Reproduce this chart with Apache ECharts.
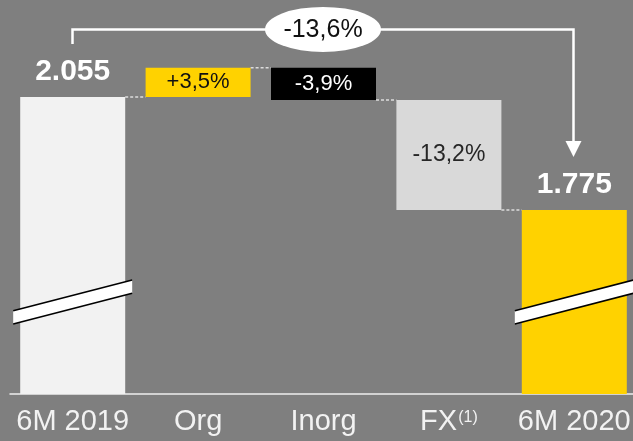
<!DOCTYPE html>
<html><head><meta charset="utf-8">
<script src="https://cdn.jsdelivr.net/npm/echarts@6/dist/echarts.min.js"></script>
<style>html,body{margin:0;padding:0;background:#7f7f7f}#c{width:633px;height:441px}</style>
</head><body><div id="c"></div>
<script>
const categories = ['6M 2019', 'Org', 'Inorg', 'FX', '6M 2020'];
const startValue = 2055;
const stepDeltas = [72, -80, -272];
const endValue = 1775;
const valueLabels = ['2.055', '+3,5%', '-3,9%', '-13,2%', '1.775'];
const totalChangeLabel = '-13,6%';
const breakValues = [1547, 1547];
const axisRange = [1319, 2295];

const barColors = ['#f2f2f2', '#ffd200', '#000000', '#d9d9d9', '#ffd200'];
const labelColors = ['#ffffff', '#111111', '#ffffff', '#262626', '#ffffff'];
const FONT = 'Liberation Sans';

// derived waterfall pieces
const levels = [startValue];
stepDeltas.forEach(d => levels.push(levels[levels.length - 1] + d));
levels.push(endValue);
const baseData = [0];
const barData = [startValue];
stepDeltas.forEach((d, i) => {
  baseData.push(Math.min(levels[i], levels[i + 1]));
  barData.push(Math.abs(d));
});
baseData.push(0);
barData.push(endValue);

const BAR_W = 105;
const chart = echarts.init(document.getElementById('c'), null, {renderer: 'canvas'});

const option = {
  backgroundColor: '#7f7f7f',
  animation: false,
  grid: {left: 10, width: 627, top: 0, bottom: 47, containLabel: false, outerBoundsMode: 'none'},
  xAxis: {
    type: 'category',
    data: categories,
    axisLine: {show: true, lineStyle: {color: '#eeeeee', width: 1.5}},
    axisTick: {show: false},
    axisLabel: {
      margin: 12,
      interval: 0,
      formatter: v => v === 'FX' ? '{m|FX}{s|(1)}' : '{m|' + v + '}',
      rich: {
        m: {fontSize: 29, fontFamily: FONT, color: '#f2f2f2', lineHeight: 32},
        s: {fontSize: 16, fontFamily: FONT, color: '#f2f2f2', lineHeight: 18, verticalAlign: 'top', padding: [4, 0, 0, 1]}
      }
    },
    splitLine: {show: false}
  },
  yAxis: {type: 'value', min: axisRange[0], max: axisRange[1], show: false, splitLine: {show: false}},
  series: [
    {
      type: 'bar', stack: 'w', silent: true, barWidth: BAR_W,
      itemStyle: {color: 'rgba(0,0,0,0)'},
      data: baseData
    },
    {
      type: 'bar', stack: 'w', barWidth: BAR_W,
      data: barData.map((v, i) => {
        const total = (i === 0 || i === barData.length - 1);
        return {
          value: v,
          itemStyle: {color: barColors[i]},
          label: total ? {
            show: true, position: 'top', distance: 10,
            formatter: valueLabels[i], color: labelColors[i],
            fontSize: 30, fontWeight: 'bold', fontFamily: FONT
          } : {
            show: true, position: 'inside',
            formatter: valueLabels[i], color: labelColors[i],
            fontSize: i === 3 ? 23 : 22, fontFamily: FONT
          }
        };
      })
    },
    {
      // dotted connectors between bars
      type: 'custom', silent: true, z: 1,
      data: levels.slice(0, levels.length - 1).map((v, i) => [i, v]),
      renderItem: (params, api) => {
        const p = api.coord([api.value(0), api.value(1)]);
        const q = api.coord([api.value(0) + 1, api.value(1)]);
        return {
          type: 'line',
          shape: {x1: p[0] + BAR_W / 2, y1: p[1], x2: q[0] - BAR_W / 2, y2: p[1]},
          style: {stroke: '#dddddd', lineWidth: 1.5, lineDash: [3, 2]}
        };
      }
    },
    {
      // axis break marks on the total bars
      type: 'custom', silent: true, z: 5,
      data: [[0, breakValues[0]], [categories.length - 1, breakValues[1]]],
      renderItem: (params, api) => {
        const c = api.coord([api.value(0), api.value(1)]);
        const hw = 59.5, dy = 15.4, th = 6.6;
        const pts = [
          [c[0] - hw, c[1] + dy - th], [c[0] + hw, c[1] - dy - th],
          [c[0] + hw, c[1] - dy + th], [c[0] - hw, c[1] + dy + th]
        ];
        return {
          type: 'group',
          children: [
            {type: 'polygon', shape: {points: pts}, style: {fill: '#ffffff'}},
            {type: 'line', shape: {x1: pts[0][0], y1: pts[0][1], x2: pts[1][0], y2: pts[1][1]}, style: {stroke: '#000', lineWidth: 1.6}},
            {type: 'line', shape: {x1: pts[3][0], y1: pts[3][1], x2: pts[2][0], y2: pts[2][1]}, style: {stroke: '#000', lineWidth: 1.6}}
          ]
        };
      }
    },
    {
      // total change arrow with ellipse label
      type: 'custom', silent: true, z: 10,
      data: [[0, startValue, categories.length - 1, endValue]],
      renderItem: (params, api) => {
        const a = api.coord([api.value(0), api.value(1)]);
        const b = api.coord([api.value(2), api.value(3)]);
        const gap = 53;
        const topY = Math.min(a[1], b[1]) - 67.5;
        const ax = Math.round(a[0]) - 0.5, bx = Math.round(b[0]) - 0.5;
        const tipY = b[1] - gap;
        const cx = (ax + bx) / 2;
        return {
          type: 'group',
          children: [
            {type: 'polyline', shape: {points: [[ax, a[1] - gap], [ax, topY], [bx, topY], [bx, tipY - 14]]},
              style: {stroke: '#ffffff', lineWidth: 2.5, fill: null}},
            {type: 'polygon', shape: {points: [[bx - 8, tipY - 16], [bx + 8, tipY - 16], [bx, tipY]]},
              style: {fill: '#ffffff'}},
            {type: 'circle', x: cx, y: topY, scaleX: 58 / 22.5, shape: {cx: 0, cy: 0, r: 22.5},
              style: {fill: '#ffffff'}},
            {type: 'text', x: cx, y: topY + 1,
              style: {text: totalChangeLabel, fill: '#111111', fontSize: 25, fontFamily: FONT, align: 'center', verticalAlign: 'middle'}}
          ]
        };
      }
    }
  ]
};
chart.setOption(option);
</script>
</body></html>
